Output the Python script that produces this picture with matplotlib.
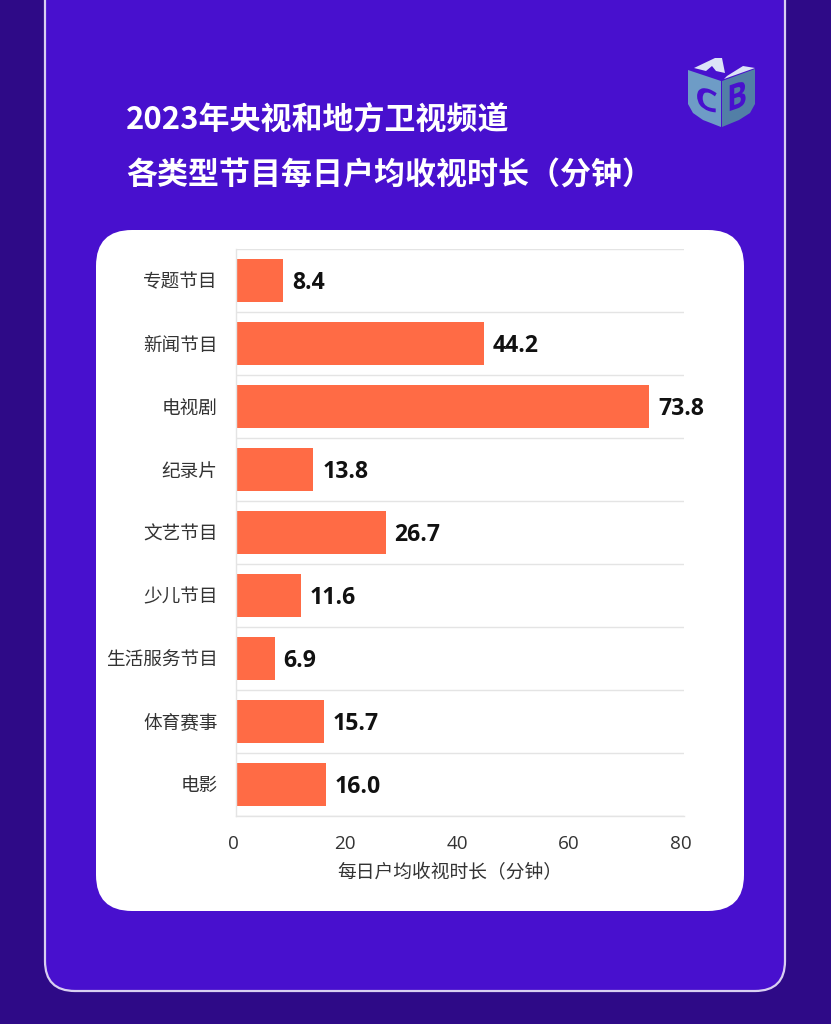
import matplotlib
matplotlib.use('Agg')
from matplotlib import pyplot as plt
from matplotlib.patches import FancyBboxPatch, Polygon, PathPatch
from matplotlib.textpath import TextPath
from matplotlib.font_manager import FontProperties
from matplotlib.transforms import Affine2D, ScaledTranslation

plt.rcParams['font.family'] = ['Open Sans', 'Noto Sans CJK SC', 'DejaVu Sans']

categories = ['专题节目', '新闻节目', '电视剧', '纪录片', '文艺节目', '少儿节目', '生活服务节目', '体育赛事', '电影']
minutes = [8.4, 44.2, 73.8, 13.8, 26.7, 11.6, 6.9, 15.7, 16.0]
x_ticks = [0, 20, 40, 60, 80]
title_lines = ['2023年央视和地方卫视频道', '各类型节目每日户均收视时长（分钟）']
x_label = '每日户均收视时长（分钟）'

W, H = 831, 1024
OUTER = '#2E0A87'
INNER = '#4810CE'
BAR = '#FF6B45'
GRID = '#E4E4E4'
TEXT = '#333333'

fig = plt.figure(figsize=(W / 100, H / 100), dpi=100, facecolor=OUTER)

# background layer in pixel coordinates
bg = fig.add_axes([0, 0, 1, 1], zorder=0)
bg.set_xlim(0, W)
bg.set_ylim(H, 0)
bg.axis('off')

bg.add_patch(FancyBboxPatch((45, -60), 740, 1051, boxstyle='round,pad=0,rounding_size=30',
                            fc=INNER, ec='#D9CFF2', lw=1.6))
bg.add_patch(FancyBboxPatch((96, 230), 648, 681, boxstyle='round,pad=0,rounding_size=36',
                            fc='white', ec='none'))

for line, y in zip(title_lines, [119.5, 176]):
    bg.text(126, y, line, color='white', fontsize=22.3, fontweight='bold', va='center', ha='left',
            family=['Noto Sans CJK SC', 'DejaVu Sans'])

# logo
bg.add_patch(Polygon([(688, 70), (721, 81), (721, 127), (703, 120), (693, 113), (688, 104)],
                     closed=True, fc='#6E9CC6', ec='none'))
bg.add_patch(Polygon([(722, 81), (755, 69), (755, 104), (750, 113), (739, 120), (722, 127)],
                     closed=True, fc='#527FA6', ec='none'))
bg.add_patch(Polygon([(694, 68), (715, 58), (722, 58), (725, 73), (716, 71), (712, 66), (706, 71)],
                     closed=True, fc='#DCE3F7', ec='none'))
bg.add_patch(Polygon([(727, 76), (743, 66), (755, 68), (724, 79)],
                     closed=True, fc='#DCE3F7', ec='none'))


def logo_letter(ch, x, y, sx, sy, shear, color):
    path = TextPath((0, 0), ch, size=10, prop=FontProperties(family='Open Sans', weight='bold'))
    tr = Affine2D().scale(sx, -sy).skew_deg(0, shear).translate(x, y) + bg.transData
    bg.add_patch(PathPatch(path, fc=color, ec='none', transform=tr))


logo_letter('C', 695, 106, 3.6, 3.0, 19, INNER)
logo_letter('B', 727, 112, 3.0, 3.6, -19, INNER)

# chart
left, right, top, bottom = 236, 684, 249, 816
ax = fig.add_axes([left / W, 1 - bottom / H, (right - left) / W, (bottom - top) / H], zorder=1)
ax.patch.set_alpha(0)

positions = list(range(len(categories)))
ax.barh(positions, minutes, height=0.68, color=BAR, zorder=2)
ax.set_xlim(0, 80)
ax.set_ylim(len(categories) - 0.5, -0.5)

ax.set_yticks(positions)
ax.set_yticklabels(categories, fontsize=13.4, color=TEXT)
ax.set_yticks([p - 0.5 for p in positions] + [len(categories) - 0.5], minor=True)
ax.set_xticks(x_ticks)
ax.set_xticklabels([str(t) for t in x_ticks], fontsize=13.6, color=TEXT)
ax.tick_params(axis='y', which='both', length=0, pad=13.2)
ax.tick_params(axis='x', length=0, pad=13.7)
ax.grid(axis='y', which='minor', color=GRID, lw=1.0, zorder=1)
ax.grid(axis='x', visible=False)

for spine in ['top', 'right']:
    ax.spines[spine].set_visible(False)
for spine in ['left', 'bottom']:
    ax.spines[spine].set_color(GRID)
    ax.spines[spine].set_linewidth(1.0)

# tick labels sit a little left of their ticks
shift = ScaledTranslation(-3 / 100, 0, fig.dpi_scale_trans)
for lab in ax.get_xticklabels():
    lab.set_transform(lab.get_transform() + shift)

for p, v in zip(positions, minutes):
    ax.annotate(f'{v:.1f}', (v, p), xytext=(6.5, -2), textcoords='offset points', va='center', ha='left',
                fontsize=16.6, fontweight='bold', color='#111111')

ax.set_xlabel(x_label, fontsize=13.5, color=TEXT, family=['Noto Sans CJK SC', 'DejaVu Sans'])
ax.xaxis.set_label_coords((449.5 - left) / (right - left), -(873 - bottom) / (bottom - top), )
ax.xaxis.label.set_va('center')

fig.savefig('out.png', dpi=100, facecolor=OUTER)
